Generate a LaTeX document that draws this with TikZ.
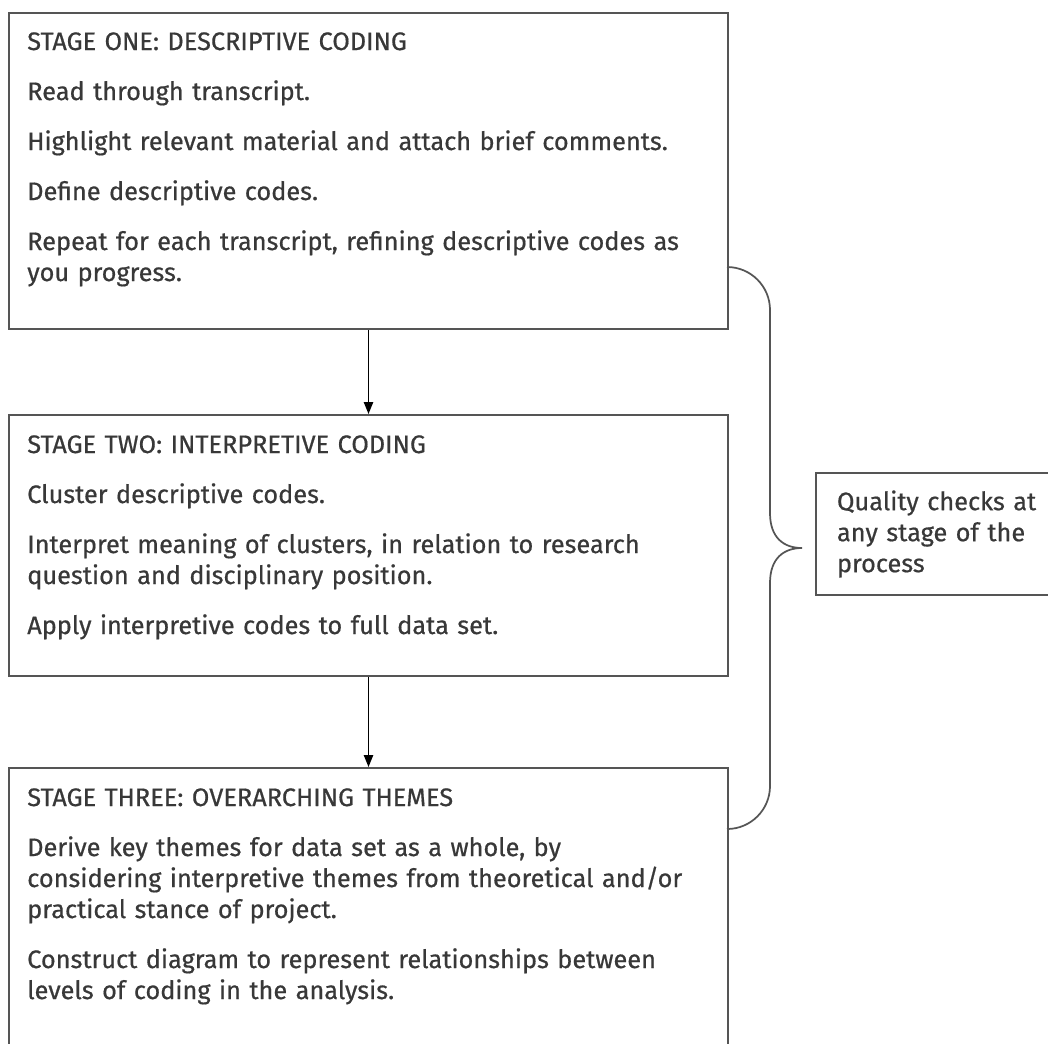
\documentclass[tikz,border=0pt]{standalone}
\usepackage{fontspec}
\setmainfont{Fira Sans}
\newfontfamily\stagefont{Fira Sans}[FakeBold=0.6]
\usetikzlibrary{arrows.meta}

\definecolor{boxgray}{HTML}{555555}
\definecolor{textgray}{HTML}{383838}

\tikzset{
  stagebox/.style={draw=boxgray, line width=1.5pt, anchor=north west,
    minimum width=539.25pt, inner sep=0pt},
  stagetext/.style={anchor=north west, inner sep=0pt, text width=520pt,
    align=left, text=textgray, font=\stagefont\fontsize{19}{23.25}\selectfont},
  qualbox/.style={draw=boxgray, line width=1.5pt, anchor=west,
    minimum height=91.5pt, inner xsep=15.75pt, text width=157.5pt,
    align=left, text=textgray, font=\stagefont\fontsize{19}{23.25}\selectfont},
  flow/.style={-{Triangle[length=9pt,width=7pt]}, line width=1.1pt},
  brace/.style={draw=boxgray, line width=1.3pt},
}
\newcommand{\pgap}{\\[14.25pt]}

\begin{document}
\begin{tikzpicture}[x=0.75pt, y=-0.75pt]
  \useasboundingbox (0,0) rectangle (1048,1043);

  % Stage boxes
  \node[stagebox, minimum height=237pt] (s1) at (8,12) {};
  \node[stagebox, minimum height=195.75pt] (s2) at (8,414) {};
  \node[stagebox, minimum height=227.25pt] (s3) at (8,767) {};

  % Text in the boxes
  \node[stagetext] (s1txt) at (27,32) {STAGE ONE: DESCRIPTIVE CODING\pgap
    Read through transcript.\pgap
    Highlight relevant material and attach brief comments.\pgap
    Define descriptive codes.\pgap
    Repeat for each transcript, refining descriptive codes as\\
    you progress.};
  \node[stagetext] (s2txt) at (27,435) {STAGE TWO: INTERPRETIVE CODING\pgap
    Cluster descriptive codes.\pgap
    Interpret meaning of clusters, in relation to research\\
    question and disciplinary position.\pgap
    Apply interpretive codes to full data set.};
  \node[stagetext] (s3txt) at (27,788) {STAGE THREE: OVERARCHING THEMES\pgap
    Derive key themes for data set as a whole, by\\
    considering interpretive themes from theoretical and/or\\
    practical stance of project.\pgap
    Construct diagram to represent relationships between\\
    levels of coding in the analysis.};

  % Arrows between stages
  \draw[flow] (s1.south) -- (s2.north);
  \draw[flow] (s2.south) -- (s3.north);

  % Quality checks box
  \node[qualbox] (qual) at (815,534) {Quality checks at\\any stage of the\\process};

  % The brace
  \coordinate (bracetop) at (727,267);
  \coordinate (bracetip) at (802,548);
  \draw[brace] (bracetop) arc[start angle=90, end angle=0, radius=32.25pt]
    -- (770,513) .. controls (770,538) and (784,548) .. (bracetip)
    .. controls (784,548) and (770,558) .. (770,583)
    -- (770,786) arc[start angle=0, end angle=-90, radius=32.25pt];
\end{tikzpicture}
\end{document}
